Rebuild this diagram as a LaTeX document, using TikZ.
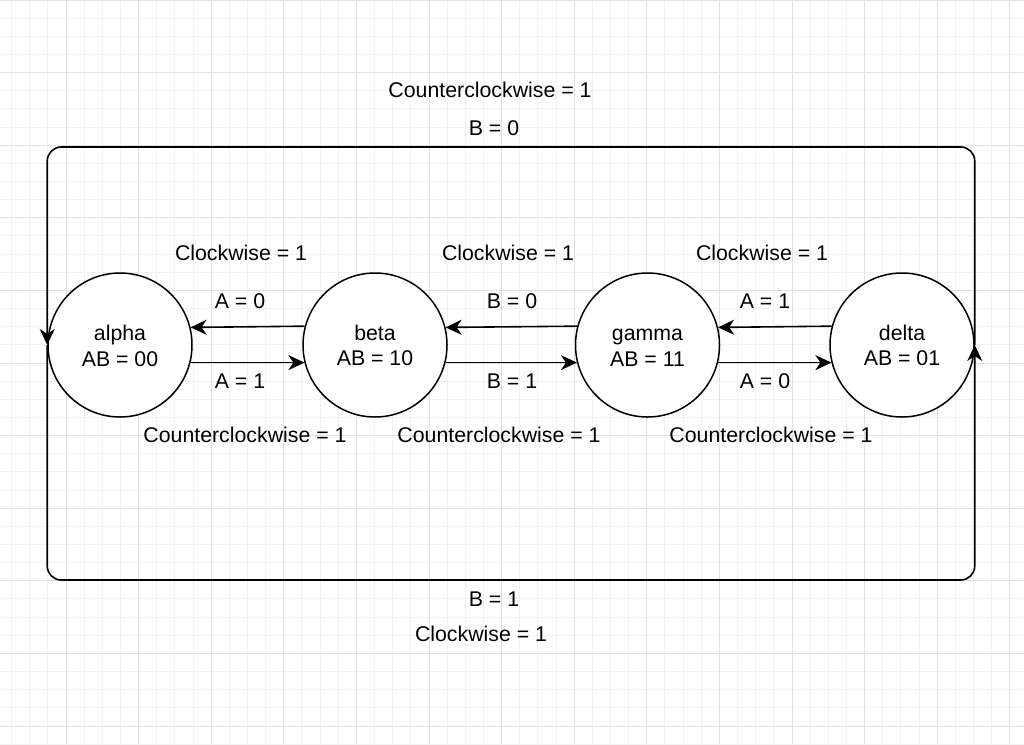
\documentclass[tikz,border=0pt]{standalone}
\usepackage{fontspec}
\setmainfont{Liberation Sans}
\usetikzlibrary{arrows.meta}
\definecolor{gridminor}{HTML}{F2F2F2}
\definecolor{gridmajor}{HTML}{E0E0E0}
\newcommand\ststrut{\rule[-4.4pt]{0pt}{25pt}}

\begin{document}
\begin{tikzpicture}[x=1pt,y=-1pt,font=\fontsize{21.3}{24.5}\selectfont,
 state/.style={draw=black,circle,line width=1.5pt,minimum size=144pt,inner sep=0pt,align=center,fill=white,
  font=\fontsize{21.3}{25}\selectfont},
 ar/.style={-{Stealth[length=16pt,width=15pt,inset=5pt]},line width=1.6pt,draw=black},
 lab/.style={inner sep=0pt}]
\useasboundingbox (0,0) rectangle (1024,744);
% grid
\fill[white] (0,0) rectangle (1024,744);
\foreach \i in {0,...,56} \draw[gridminor,line width=1pt] ({-6.6+18.15*\i},0) -- ++(0,744);
\foreach \j in {0,...,41} \draw[gridminor,line width=1pt] (0,{18.15*\j}) -- ++(1024,0);
\foreach \i in {1,...,14} \draw[gridmajor,line width=1pt] ({-6.6+72.6*\i},0) -- ++(0,744);
\foreach \j in {0,...,10} \draw[gridmajor,line width=1pt] (0,{72.6*\j}) -- ++(1024,0);
% states
\node[state] (alpha) at (120,345) {\ststrut alpha\\\ststrut AB = 00};
\node[state] (beta) at (375,345) {\ststrut beta\\\ststrut AB = 10};
\node[state] (gamma) at (647.5,345) {\ststrut gamma\\\ststrut AB = 11};
\node[state] (delta) at (902,345) {\ststrut delta\\\ststrut AB = 01};
% transitions between neighbours
\draw[ar] (beta.165.5) -- (alpha.14.5);
\draw[ar] (alpha.-14.5) -- (beta.194.5);
\draw[ar] (gamma.165.5) -- (beta.14.5);
\draw[ar] (beta.-14.5) -- (gamma.194.5);
\draw[ar] (delta.165.5) -- (gamma.14.5);
\draw[ar] (gamma.-14.5) -- (delta.194.5);
% wrap-around
\coordinate (looptop) at (511,147);
\coordinate (loopbot) at (511,580);
\draw[ar,rounded corners=14pt] (delta.east) |- (looptop) -| (alpha.west);
\draw[ar,rounded corners=14pt] (alpha.west) |- (loopbot) -| (delta.east);
% labels
\node[lab] (cwab) at (241,253) {Clockwise = 1};
\node[lab] (aba) at (240,301) {A = 0};
\node[lab] (abb) at (240,381) {A = 1};
\node[lab] (ccwab) at (245,435) {Counterclockwise = 1};
\node[lab] (cwbg) at (508,253) {Clockwise = 1};
\node[lab] (bga) at (512,301) {B = 0};
\node[lab] (bgb) at (512,381) {B = 1};
\node[lab] (ccwbg) at (499,435) {Counterclockwise = 1};
\node[lab] (cwgd) at (762,253) {Clockwise = 1};
\node[lab] (gda) at (765,301) {A = 1};
\node[lab] (gdb) at (765,381) {A = 0};
\node[lab] (ccwgd) at (771,435) {Counterclockwise = 1};
\node[lab] (ccwtop) at (490,90) {Counterclockwise = 1};
\node[lab] (btop) at (494,128) {B = 0};
\node[lab] (bbot) at (494,599) {B = 1};
\node[lab] (cwbot) at (481,634) {Clockwise = 1};
\end{tikzpicture}
\end{document}
